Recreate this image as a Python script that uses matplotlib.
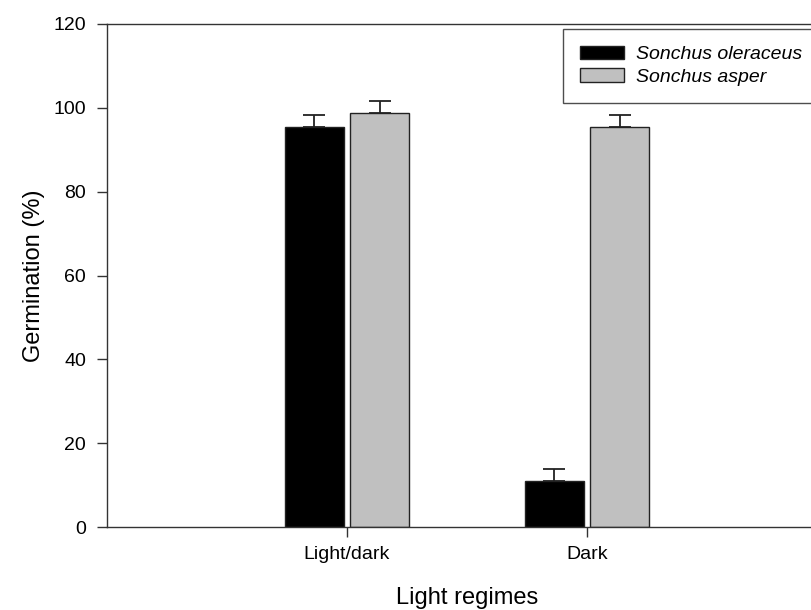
import matplotlib
matplotlib.use("Agg")
import matplotlib.pyplot as plt
import numpy as np

plt.rcParams['font.family'] = ['Liberation Sans', 'DejaVu Sans']

categories = ["Light/dark", "Dark"]
series_names = ["Sonchus oleraceus", "Sonchus asper"]
oleraceus = [95.5, 10.9]
oleraceus_err = [2.7, 2.9]
asper = [98.8, 95.4]
asper_err = [2.9, 2.8]
yticks = [0, 20, 40, 60, 80, 100, 120]

fig = plt.figure(figsize=(8.11, 6.10), dpi=100)
ax = fig.add_axes([107/811, 1 - 527/610, 720/811, (527-24)/610])

x = np.array([1.0, 2.0])
w = 0.245
gap = 0.0145
ekw = dict(elinewidth=1.3, capthick=1.3, ecolor='#222222')
ax.bar(x - w/2 - gap, oleraceus, width=w, color='black', edgecolor='#222222', linewidth=1,
       yerr=[np.zeros(2), oleraceus_err], capsize=8, error_kw=ekw, label=series_names[0])
ax.bar(x + w/2 + gap, asper, width=w, color='#c0c0c0', edgecolor='#222222', linewidth=1,
       yerr=[np.zeros(2), asper_err], capsize=8, error_kw=ekw, label=series_names[1])

ax.set_xlim(0, 3)
ax.set_ylim(0, 120)
ax.set_yticks(yticks)
ax.set_xticks(x)
ax.set_xticklabels(categories)
ax.tick_params(axis='both', direction='out', length=7, width=1, labelsize=14, color='#333333')
ax.tick_params(axis='x', pad=7)
ax.tick_params(axis='y', pad=8)
for s in ax.spines.values():
    s.set_color('#333333')
    s.set_linewidth(1)

ax.set_ylabel("Germination (%)", fontsize=17, labelpad=6)
ax.set_xlabel("Light regimes", fontsize=17, labelpad=17)

leg = ax.legend(loc='upper left', bbox_to_anchor=((565-107)/720, 1 - 5/503),
                prop={'style': 'italic', 'size': 14},
                frameon=True, fancybox=False, edgecolor='#222222',
                handlelength=2.3, handleheight=0.72, borderpad=0.85, labelspacing=0.26,
                handletextpad=0.6, borderaxespad=0)
leg.get_frame().set_linewidth(1)
fig.canvas.draw()
# nudge handles/text to match reference spacing
leg.set_bbox_to_anchor(((563-107)/720, 1 - 5/503), transform=ax.transAxes)

fig.savefig("out.png", dpi=100)
